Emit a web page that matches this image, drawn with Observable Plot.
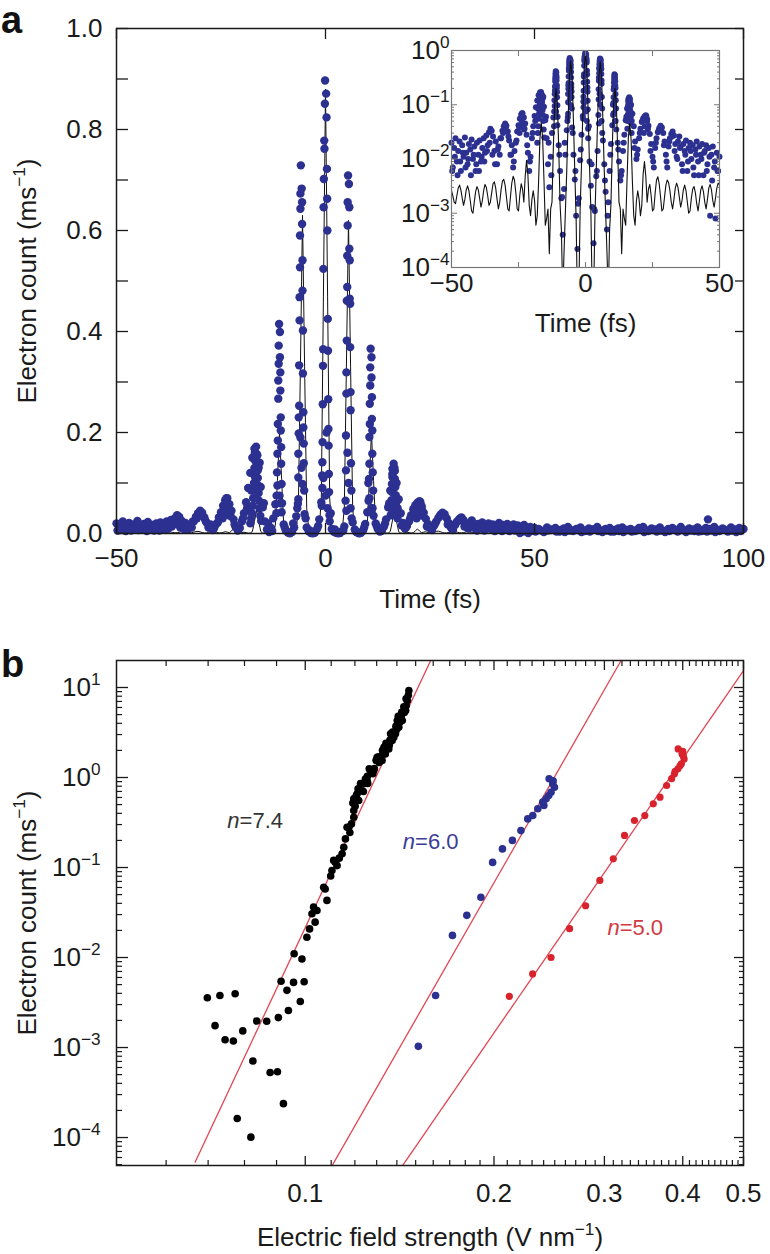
<!DOCTYPE html>
<html><head><meta charset="utf-8">
<script src="https://cdn.jsdelivr.net/npm/d3@7"></script>
<script src="https://cdn.jsdelivr.net/npm/@observablehq/plot@0.6"></script>
<style>
body{margin:0;background:#fff;}
#wrap{position:relative;width:770px;height:1254px;overflow:hidden;font-family:"Liberation Sans",Arial,Helvetica,sans-serif;}
.abs{position:absolute;}
.plab{position:absolute;font-weight:bold;font-size:38px;line-height:38px;color:#111;}
</style></head><body><div id="wrap"></div>
<script>
// ---------------- Panel a: measured electron count (blue) ----------------
// baseline band, sampled every 0.5 fs from -50 fs to 50 fs
const bandStart = -50, bandStep = 0.5;
const bandV = [
0.02,0.007,0.016,0.024,0.009,0.014,0.021,0.006,0.018,0.011,
0.025,0.013,0.008,0.019,0.015,0.023,0.01,0.017,0.006,0.02,
0.012,0.022,0.009,0.016,0.024,0.013,0.027,0.018,0.031,0.036,
0.033,0.026,0.014,0.021,0.008,0.017,0.012,0.024,0.033,0.04,
0.045,0.041,0.032,0.022,0.012,0.018,0.007,0.014,0.02,0.032,
0.042,0.055,0.066,0.07,0.058,0.045,0.028,0.013,0.006,0.011,
0.024,0.04,0.062,0.09,0.12,0.15,0.168,0.158,0.13,0.092,
0.052,0.024,0.008,0.003,0.011,0.03,0.058,0.095,0.075,0.042,
0.018,0.006,0.0019,0.0004,0.0028,0.012,0.034,0.068,0.19,0.098,
0.038,0.012,0.0042,0.0009,0.00022,0.0019,0.0095,0.028,0.062,0.11,
0.075,0.05,0.024,0.009,0.0032,0.0013,0.00028,0.0011,0.0048,0.014,
0.045,0.1,0.05,0.022,0.008,0.0025,0.0005,0.0016,0.006,0.019,
0.042,0.07,0.05,0.035,0.02,0.009,0.004,0.006,0.014,0.028,
0.052,0.085,0.118,0.13,0.1,0.068,0.04,0.021,0.01,0.015,
0.024,0.036,0.048,0.056,0.061,0.064,0.054,0.041,0.029,0.019,
0.011,0.007,0.016,0.024,0.031,0.037,0.041,0.038,0.03,0.021,
0.012,0.007,0.017,0.024,0.029,0.032,0.027,0.019,0.011,0.021,
0.026,0.017,0.008,0.019,0.014,0.022,0.006,0.016,0.02,0.01,
0.018,0.005,0.015,0.021,0.009,0.017,0.012,0.019,0.005,0.014,
0.018,0.008,0.016,0.0009,0.012,0.017,0.007,0.0008,0.013,0.006,
0.011];
// second (interleaved) scan, every 1 fs from -49.75 fs to 99.25 fs
const band2Start = -49.75, band2Step = 1;
const band2V = [
0.006,0.011,0.005,0.009,0.013,0.007,0.01,0.005,0.012,0.008,
0.006,0.011,0.009,0.014,0.02,0.012,0.008,0.015,0.024,0.03,
0.036,0.026,0.012,0.009,0.022,0.038,0.05,0.036,0.018,0.009,
0.03,0.05,0.085,0.11,0.14,0.06,0.02,0.005,0.04,0.06,
0.012,0.002,0.02,0.05,0.13,0.03,0.006,0.0015,0.015,0.09,
0.2,0.04,0.008,0.0012,0.006,0.16,0.03,0.004,0.0009,0.012,
0.1,0.05,0.015,0.005,0.02,0.06,0.11,0.05,0.016,0.012,
0.03,0.05,0.058,0.035,0.014,0.009,0.02,0.033,0.036,0.018,
0.009,0.021,0.026,0.014,0.01,0.016,0.006,0.012,0.009,0.014,
0.007,0.012,0.005,0.01,0.013,0.006,0.011,0.004,0.009,0.006,
0.004,0.007,0.003,0.006,0.008,0.004,0.007,0.003,0.006,0.005,
0.007,0.003,0.006,0.004,0.008,0.005,0.003,0.006,0.004,0.007,
0.005,0.003,0.007,0.004,0.006,0.008,0.003,0.005,0.007,0.004,
0.006,0.003,0.005,0.008,0.004,0.007,0.003,0.006,0.005,0.004,
0.007,0.004,0.006,0.003,0.005,0.008,0.004,0.006,0.003,0.005];
// far tail, every 1 fs from 51 fs to 100 fs
const farStart = 51, farStep = 1;
const farV = [
0.009,0.005,0.012,0.007,0.011,0.004,0.01,0.013,0.006,0.009,
0.012,0.005,0.01,0.008,0.013,0.006,0.009,0.011,0.004,0.01,
0.012,0.007,0.009,0.005,0.011,0.013,0.006,0.01,0.008,0.012,
0.005,0.009,0.011,0.007,0.013,0.006,0.01,0.008,0.012,0.005,
0.011,0.009,0.013,0.007,0.01,0.006,0.012,0.008,0.011,0.009];
const spikeDots = [[91.5,0.028]];
// dots on the fringe edges [time fs, count]
const fringeDots = [
[-0.1,0.897],[0.15,0.871],[-0.15,0.851],[0.25,0.824],[-0.3,0.778],[-0.25,0.762],[0.35,0.722],[-0.4,0.702],[0.4,0.663],[-0.45,0.646],[0.45,0.6],[-0.5,0.524],[0.55,0.425],[-0.55,0.365],[0.6,0.362],[-0.6,0.332],[0.65,0.266],[-0.65,0.256],[0.7,0.207],[-0.7,0.181],[0.75,0.174],[-0.75,0.141],[0.8,0.118],[-0.8,0.115],[0.85,0.082],[-0.9,0.055],[0.95,0.036],
[-5.9,0.729],[-5.7,0.683],[-6.0,0.673],[-5.6,0.656],[-6.0,0.643],[-5.6,0.613],[-6.1,0.59],[-5.5,0.541],[-6.1,0.527],[-5.5,0.481],[-6.2,0.468],[-6.2,0.422],[-5.4,0.402],[-6.3,0.333],[-5.4,0.317],[-6.3,0.253],[-5.3,0.24],[-6.4,0.23],[-5.3,0.21],[-6.4,0.198],[-5.2,0.178],[-6.5,0.158],[-5.2,0.139],[-6.5,0.111],[-5.1,0.085],[-6.6,0.059],
[5.4,0.709],[5.6,0.692],[5.3,0.656],[5.7,0.646],[5.3,0.61],[5.7,0.564],[5.2,0.55],[5.8,0.541],[5.2,0.488],[5.8,0.465],[5.1,0.461],[5.9,0.455],[5.1,0.382],[5.9,0.369],[5.0,0.319],[6.0,0.28],[5.0,0.277],[6.0,0.244],[4.9,0.194],[6.1,0.139],[4.9,0.125],[6.2,0.085],[4.8,0.065],
[-11.1,0.415],[-10.9,0.399],[-11.2,0.372],[-10.9,0.349],[-11.2,0.336],[-10.8,0.319],[-11.3,0.303],[-10.8,0.283],[-11.3,0.267],[-10.7,0.23],[-11.4,0.217],[-10.7,0.204],[-11.4,0.184],[-10.6,0.171],[-11.5,0.158],[-10.6,0.138],[-11.6,0.121],[-10.5,0.098],[-11.7,0.075],[-10.4,0.06],
[10.8,0.366],[11.0,0.349],[10.7,0.329],[11.0,0.309],[10.7,0.293],[11.1,0.27],[10.6,0.257],[11.1,0.227],[10.6,0.217],[11.2,0.204],[10.5,0.191],[11.2,0.158],[10.5,0.138],[11.3,0.121],[10.4,0.108],[11.4,0.085],[10.3,0.065],
[-16.6,0.172],[-16.9,0.16],[-16.3,0.155],[-16.9,0.145],[-16.3,0.14],[-17.0,0.13],[-16.2,0.125],[-17.0,0.115],[-16.2,0.11],[-17.1,0.1],[-16.1,0.095],[-17.2,0.085],[-16.0,0.08],[-17.3,0.07],[-15.9,0.065],[-17.4,0.055],[-15.8,0.05],[-17.6,0.04],[-15.6,0.035],[-17.8,0.03],[-15.4,0.025],[-18.0,0.02],
[16.3,0.138],[16.0,0.128],[16.6,0.124],[16.0,0.112],[16.6,0.108],[15.9,0.098],[16.7,0.092],[15.9,0.082],[16.8,0.076],[15.8,0.066],[16.9,0.06],[15.7,0.05],[17.0,0.045],[15.6,0.036],[17.2,0.03],
[-23.7,0.07],[-23.4,0.06],[-24.0,0.055],[-23.2,0.045],[-24.3,0.04],[-22.9,0.035],[-24.6,0.03],
[22.7,0.062],[22.4,0.052],[23.0,0.05],[22.1,0.04],[23.3,0.038],[21.8,0.03]
];
// simulated curve (black), every 0.5 fs from -50 fs to 50 fs
const simStart = -50, simStep = 0.5;
const simV = [
0.0026,0.0021,0.0016,0.0015,0.0021,0.0029,0.0033,0.0027,0.0019,0.0014,
0.0018,0.0027,0.0032,0.0026,0.0017,0.0011,0.001,0.0016,0.0025,0.0031,
0.0027,0.0019,0.0013,0.0017,0.0026,0.0034,0.003,0.0021,0.0014,0.0016,
0.0024,0.0035,0.0038,0.0029,0.0018,0.0012,0.0016,0.0027,0.0039,0.0042,
0.0033,0.002,0.0012,0.0011,0.002,0.0036,0.0048,0.0041,0.0024,0.0012,
0.0011,0.0022,0.0035,0.0028,0.0016,0.0048,0.0095,0.0052,0.0014,0.0009,
0.0018,0.0026,0.0017,0.0006,0.0009,0.0038,0.024,0.046,0.025,0.0042,
0.0006,0.0008,0.0012,0.00018,0.0012,0.0016,0.016,0.105,0.2,0.107,
0.017,0.0015,0.0005,0.00003,0.0002,0.0011,0.006,0.05,0.33,0.63,
0.33,0.05,0.006,0.0008,0.00002,0.00003,0.0012,0.0075,0.07,0.47,
0.88,0.47,0.07,0.0075,0.0012,0.00003,0.00002,0.0008,0.006,0.05,
0.33,0.62,0.33,0.05,0.006,0.0011,0.0002,0.00003,0.0005,0.0015,
0.017,0.107,0.2,0.105,0.016,0.0016,0.0012,0.00018,0.0012,0.0008,
0.0006,0.0042,0.025,0.045,0.024,0.0038,0.0009,0.0006,0.0017,0.0026,
0.0018,0.0009,0.0014,0.0052,0.009,0.0048,0.0016,0.0028,0.0034,0.0021,
0.0011,0.0012,0.0024,0.0041,0.0047,0.0035,0.002,0.0011,0.0012,0.002,
0.0033,0.0041,0.0037,0.0026,0.0016,0.0012,0.0018,0.0029,0.0036,0.003,
0.002,0.0013,0.0017,0.0027,0.0033,0.0026,0.0016,0.001,0.0011,0.0019,
0.0028,0.0031,0.0024,0.0015,0.0011,0.0017,0.0027,0.0032,0.0025,0.0016,
0.0012,0.0018,0.0029,0.0034,0.0027,0.0017,0.0013,0.0019,0.0029,0.0036,
0.0033];
const aXTicks = [-50, 0, 50, 100];
const aYTicks = [0, 0.1, 0.2, 0.3, 0.4, 0.5, 0.6, 0.7, 0.8, 0.9, 1.0];
const aYLabels = [0, 0.2, 0.4, 0.6, 0.8, 1.0];
const insetXTicks = [-50, -25, 0, 25, 50];
const insetXLabels = [-50, 0, 50];
const insetYTicks = [1e-4, 1e-3, 1e-2, 1e-1, 1];

// ---------------- Panel b: power-law scaling ----------------
// [field strength V/nm, electron count ms^-1]
const blackPts = [
[0.0698,0.00357],[0.0731,0.00379],[0.0773,0.00396],[0.0718,0.00175],[0.0745,0.00122],[0.0768,0.00118],[0.0795,0.00153],[0.0825,0.000709],[0.0837,0.00197],[0.0868,0.00196],[0.0879,0.000527],[0.0903,0.000539],[0.0906,0.00215],[0.094,0.00258],[0.0923,0.000238],[0.0779,0.000163],[0.0819,0.000101],[0.0982,0.00324],[0.0915,0.00544],[0.0935,0.00432],[0.0958,0.00529],[0.0996,0.00539],[0.096,0.011],[0.0988,0.00963],[0.1006,0.0168],[0.1016,0.0208],[0.1037,0.0247],
[0.1025,0.0306],[0.1031,0.0363],[0.1044,0.0333],[0.1083,0.0431],[0.1076,0.0578],[0.107,0.0603],[0.1098,0.0806],[0.1103,0.0928],[0.1117,0.114],[0.111,0.12],[0.1124,0.105],[0.1133,0.127],[0.1145,0.142],[0.1152,0.168],[0.1159,0.208],[0.1166,0.28],[0.1173,0.28],[0.1178,0.245],[0.1185,0.305],[0.1195,0.362],[0.1195,0.43],[0.1201,0.48],[0.1195,0.58],[0.1217,0.555],[0.1206,0.631],[0.121,0.66],[0.1229,0.717],[0.1225,0.858],[0.124,0.851],[0.1255,0.926],[0.1256,1.03],[0.127,1.196],[0.1286,1.2],[0.1289,1.26],[0.1302,1.68],[0.1312,1.47],[0.1318,1.68],[0.1326,1.545],[0.1333,1.9],[0.1335,2.17],[0.1342,1.83],[0.1352,2.27],[0.1359,2.08],[0.1365,2.6],[0.1368,3.06],[0.1376,2.58],[0.1384,2.78],[0.1393,3.06],[0.1398,3.4],[0.1402,4.3],[0.141,3.62],[0.1414,4.08],[0.1422,4.7],[0.1428,4.3],[0.1439,5.28],[0.1446,5.55],[0.1449,6.3],[0.1455,7.18],[0.146,8.2],[0.1463,9.26],
[0.1265,1.25],[0.1282,1.1],[0.1297,1.55],[0.131,1.7],[0.1328,2.0],[0.1345,2.4],[0.1362,2.3],[0.1378,3.2],[0.1395,3.7],[0.1407,4.8],[0.1425,5.3],[0.1436,6.1],[0.1448,7.5],[0.1258,0.86],[0.1247,0.96],[0.1238,0.7],[0.1214,0.75],[0.1191,0.52]
];
const bluePts = [
[0.2449,0.967],[0.2482,0.851],[0.2497,0.78],[0.2466,0.687],[0.2422,0.58],[0.2392,0.532],[0.2349,0.449],[0.2306,0.378],[0.2264,0.347],[0.2208,0.257],[0.214,0.2],[0.2063,0.161],[0.199,0.114],[0.1906,0.0467],[0.181,0.0294],[0.1717,0.0176],[0.1614,0.00379],[0.1515,0.00103],[0.2485,0.92],[0.2445,0.63],[0.2402,0.49]
];
const redPts = [
[0.3933,2.08],[0.399,1.83],[0.402,1.61],[0.398,1.42],[0.396,1.35],[0.393,1.25],[0.389,1.17],[0.388,1.1],[0.384,0.97],[0.377,0.815],[0.368,0.604],[0.359,0.51],[0.348,0.378],[0.335,0.333],[0.323,0.227],[0.31,0.125],[0.295,0.0718],[0.28,0.0376],[0.264,0.0209],[0.2466,0.01],[0.2305,0.00658],[0.2116,0.00371],[0.4,1.95],[0.401,1.72]
];
// power-law fits: end points [E, count]
const fitNames = ["7.4", "6.0", "5.0"];
const fitStart = [[0.0667,5.27e-5],[0.1104,4.89e-5],[0.143,4.89e-5]];
const fitEnd = [[0.1585,19.95],[0.319,19.95],[0.5,15.4]];
const nLabels = [
  {E:0.0832, c:0.333, text:"n=7.4", color:"#333333"},
  {E:0.1585, c:0.19, text:"n=6.0", color:"#3b3d96"},
  {E:0.336, c:0.0215, text:"n=5.0", color:"#d23a42"}
];
const bXLabels = [0.1, 0.2, 0.3, 0.4, 0.5];
const bYTicks = [1e-4, 1e-3, 1e-2, 1e-1, 1, 10];

// ---------------- drawing ----------------
const FONT = "'Liberation Sans', Arial, Helvetica, sans-serif";
const BLUE = "#2c3191", RED = "#d8232c", REDLINE = "#e24552";
const baseStyle = {fontSize: "26px", fontFamily: FONT, color: "#1a1a1a", background: "transparent"};
const minus = d => d < 0 ? "\u2212" + Math.abs(d) : String(d);
const sup10 = d => "10^" + Math.round(Math.log10(d));
function logMinor(lo, hi) {
  const out = [];
  for (let e = -5; e <= 1; e++) for (let k = 2; k <= 9; k++) { const v = k * Math.pow(10, e); if (v > lo && v < hi) out.push(v); }
  return out;
}

const blueA = [
  ...bandV.map((v, i) => ({t: bandStart + i * bandStep, v})),
  ...band2V.map((v, i) => ({t: band2Start + i * band2Step, v})),
  ...farV.map((v, i) => ({t: farStart + i * farStep, v})),
  ...spikeDots.map(([t, v]) => ({t, v})),
  ...fringeDots.map(([t, v]) => ({t, v}))
];
const sim = simV.map((v, i) => ({t: simStart + i * simStep, v}));

const plotA = Plot.plot({
  width: 770, height: 620,
  marginTop: 28, marginRight: 27, marginBottom: 87, marginLeft: 116,
  style: baseStyle,
  x: {domain: [-50, 100]},
  y: {domain: [0, 1]},
  marks: [
    Plot.line(sim, {x: "t", y: "v", stroke: "#111", strokeWidth: 1}),
    Plot.dot(blueA, {x: "t", y: "v", r: 4.2, fill: BLUE}),
    Plot.frame({stroke: "#1a1a1a", strokeWidth: 1.5}),
    Plot.axisX({anchor: "bottom", ticks: aXTicks, tickSize: -10, tickPadding: 25, strokeWidth: 1.3, tickFormat: minus,
      label: "Time (fs)", labelAnchor: "center", labelArrow: "none", labelOffset: 74}),
    Plot.axisX({anchor: "top", ticks: aXTicks, tickSize: -10, strokeWidth: 1.3, fill: "none", label: null}),
    Plot.axisY({anchor: "left", ticks: aYTicks, tickSize: -12, tickPadding: 26, strokeWidth: 1.3,
      tickFormat: d => aYLabels.some(l => Math.abs(l - d) < 1e-9) ? d.toFixed(1) : "",
      label: "Electron count (ms^-1)", labelAnchor: "center", labelArrow: "none", labelOffset: 99}),
    Plot.axisY({anchor: "right", ticks: aYTicks, tickSize: -9, strokeWidth: 1.3, fill: "none", label: null})
  ]
});

const plotInset = Plot.plot({
  width: 360, height: 330,
  marginTop: 30, marginRight: 21, marginBottom: 83, marginLeft: 71,
  style: baseStyle,
  x: {domain: [-50, 50]},
  y: {type: "log", domain: [1e-4, 1]},
  marks: [
    Plot.dot(blueA.filter(d => d.t <= 50 && d.v >= 1e-4), {x: "t", y: "v", r: 3, fill: BLUE}),
    Plot.line(sim, {x: "t", y: "v", stroke: "#111", strokeWidth: 1.1, clip: true}),
    Plot.frame({stroke: "#777", strokeWidth: 1.2}),
    Plot.axisX({anchor: "bottom", ticks: insetXTicks, tickSize: -5, tickPadding: 11, stroke: "#777",
      tickFormat: d => insetXLabels.includes(d) ? minus(d) : "",
      label: "Time (fs)", labelAnchor: "center", labelArrow: "none", labelOffset: 64}),
    Plot.axisX({anchor: "top", ticks: insetXTicks, tickSize: -5, stroke: "#777", fill: "none", label: null}),
    Plot.axisY({anchor: "left", ticks: insetYTicks, tickSize: -6, tickPadding: 8, stroke: "#777", tickFormat: sup10, label: null}),
    Plot.axisY({anchor: "left", ticks: logMinor(1e-4, 1), tickSize: -3, stroke: "#777", fill: "none", label: null}),
    Plot.axisY({anchor: "right", ticks: insetYTicks, tickSize: -6, stroke: "#777", fill: "none", label: null}),
    Plot.axisY({anchor: "right", ticks: logMinor(1e-4, 1), tickSize: -3, stroke: "#777", fill: "none", label: null})
  ]
});

const fits = fitNames.map((n, i) => ({n, E1: fitStart[i][0], c1: fitStart[i][1], E2: fitEnd[i][0], c2: fitEnd[i][1]}));
const bYMinor = logMinor(4.89e-5, 19.95);
const bXMinor = d3.range(6, 50).map(k => k / 100).filter(v => !bXLabels.some(l => Math.abs(l - v) < 1e-9));

const plotB = Plot.plot({
  width: 770, height: 634,
  marginTop: 40, marginRight: 27, marginBottom: 89, marginLeft: 116,
  style: baseStyle,
  x: {type: "log", domain: [0.05, 0.5]},
  y: {type: "log", domain: [4.89e-5, 19.95]},
  marks: [
    Plot.link(fits, {x1: "E1", y1: "c1", x2: "E2", y2: "c2", stroke: REDLINE, strokeWidth: 1.3, clip: true}),
    Plot.dot(blackPts, {x: d => d[0], y: d => d[1], r: 3.8, fill: "#000"}),
    Plot.dot(bluePts, {x: d => d[0], y: d => d[1], r: 3.8, fill: BLUE}),
    Plot.dot(redPts, {x: d => d[0], y: d => d[1], r: 3.6, fill: RED}),
    Plot.text(nLabels, {x: "E", y: "c", text: "text", fill: "color", fontSize: 22}),
    Plot.frame({stroke: "#1a1a1a", strokeWidth: 1.5}),
    Plot.axisX({anchor: "bottom", ticks: bXLabels, tickSize: -9, tickPadding: 27, strokeWidth: 1.3, tickFormat: d => String(d),
      label: "Electric field strength (V nm^-1)", labelAnchor: "center", labelArrow: "none", labelOffset: 80}),
    Plot.axisX({anchor: "bottom", ticks: bXMinor, tickSize: -5, strokeWidth: 1.2, fill: "none", label: null}),
    Plot.axisX({anchor: "top", ticks: bXLabels, tickSize: -9, strokeWidth: 1.3, fill: "none", label: null}),
    Plot.axisX({anchor: "top", ticks: bXMinor, tickSize: -5, strokeWidth: 1.2, fill: "none", label: null}),
    Plot.axisY({anchor: "left", ticks: bYTicks, tickSize: -12, tickPadding: 28, strokeWidth: 1.3, tickFormat: sup10,
      label: "Electron count (ms^-1)", labelAnchor: "center", labelArrow: "none", labelOffset: 99}),
    Plot.axisY({anchor: "left", ticks: bYMinor, tickSize: -6, strokeWidth: 1.2, fill: "none", label: null}),
    Plot.axisY({anchor: "right", ticks: bYTicks, tickSize: -10, strokeWidth: 1.3, fill: "none", label: null}),
    Plot.axisY({anchor: "right", ticks: bYMinor, tickSize: -5, strokeWidth: 1.2, fill: "none", label: null})
  ]
});

const wrap = document.getElementById("wrap");
function place(el, left, top) { el.classList.add("abs"); el.style.left = left + "px"; el.style.top = top + "px"; wrap.appendChild(el); }
place(plotA, 0, 0);
place(plotInset, 380, 20);
place(plotB, 0, 620);
function letter(txt, left, top) { const d = document.createElement("div"); d.className = "plab"; d.textContent = txt; d.style.left = left + "px"; d.style.top = top + "px"; wrap.appendChild(d); }
letter("a", 1, 1);
letter("b", 1, 645);

const NS = "http://www.w3.org/2000/svg";
function rich(svg) {
  svg.querySelectorAll("text, tspan").forEach(el => {
    if (el.children.length) return;
    const s = el.textContent;
    const fs = parseFloat(getComputedStyle(el).fontSize) || 26;
    const m = s.match(/^(.*?)\^(-?\d+)(.*)$/);
    if (m) {
      el.textContent = m[1];
      const sp = document.createElementNS(NS, "tspan");
      sp.setAttribute("font-size", (fs * 0.66).toFixed(1) + "px");
      sp.setAttribute("dy", (-fs * 0.42).toFixed(1) + "px");
      sp.textContent = m[2].replace("-", "\u2212");
      el.appendChild(sp);
      if (m[3]) {
        const p = document.createElementNS(NS, "tspan");
        p.setAttribute("dy", (fs * 0.42).toFixed(1) + "px");
        p.textContent = m[3];
        el.appendChild(p);
      }
    } else if (s.startsWith("n=")) {
      el.textContent = "";
      const it = document.createElementNS(NS, "tspan");
      it.setAttribute("font-style", "italic");
      it.textContent = "n";
      el.appendChild(it);
      el.appendChild(document.createTextNode(s.slice(1)));
    }
  });
}
[plotA, plotInset, plotB].forEach(rich);
</script></body></html>
